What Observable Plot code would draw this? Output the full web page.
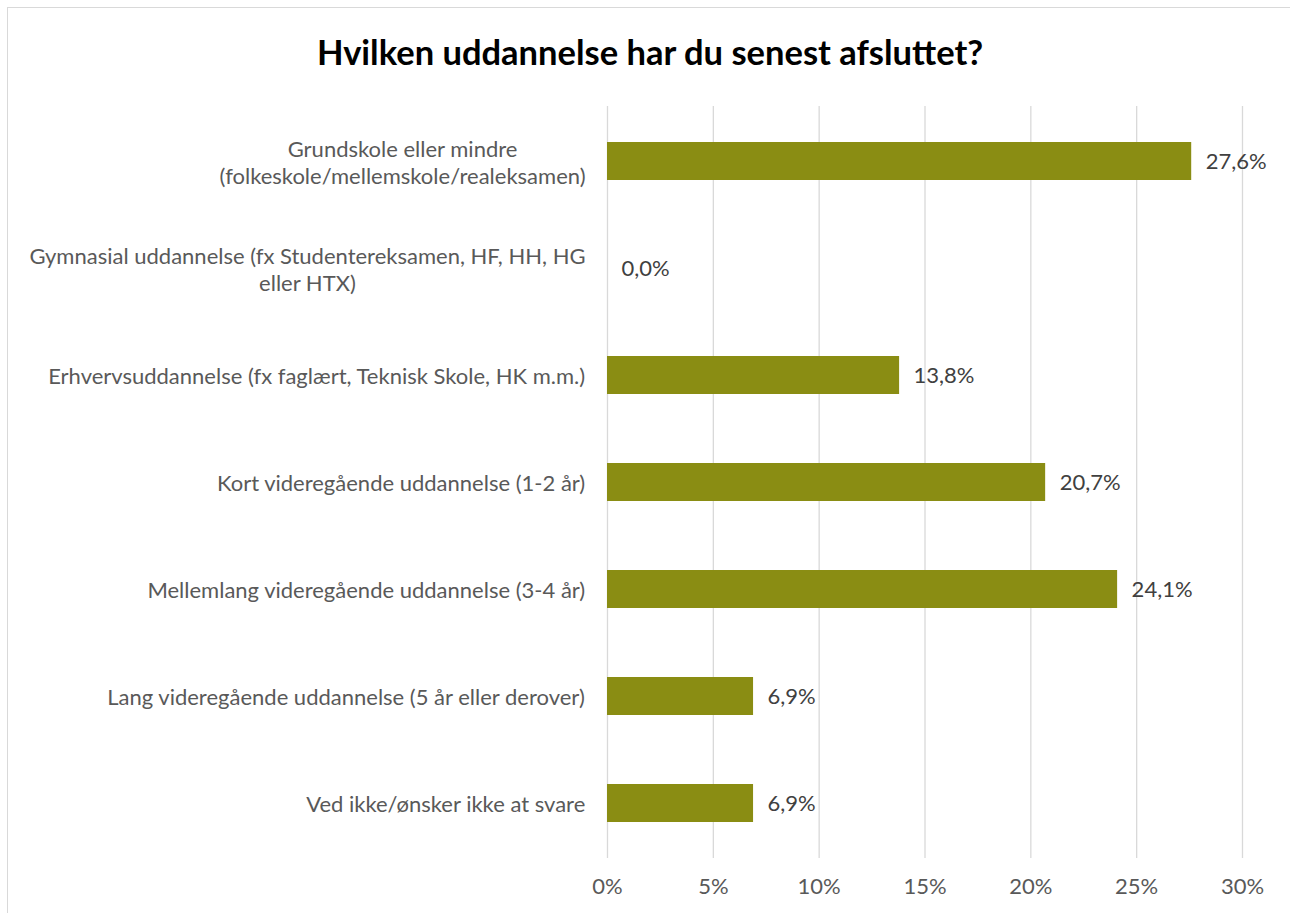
<!DOCTYPE html>
<html>
<head>
<meta charset="utf-8">
<script src="https://cdn.jsdelivr.net/npm/d3@7"></script>
<script src="https://cdn.jsdelivr.net/npm/@observablehq/plot@0.6"></script>
<style>
  html, body { margin: 0; padding: 0; background: #fff; overflow: hidden; }
  #wrap { position: relative; width: 1290px; height: 913px; }
  #border { position: absolute; left: 7px; top: 7px; width: 1300px; height: 930px; border: 1px solid #d9d9d9; pointer-events: none; }
  #title { height: 96px; line-height: 104px; text-align: center; font-family: Lato, sans-serif; font-weight: bold; font-size: 34.5px; color: #000; padding-left: 10px; }
</style>
</head>
<body>
<div id="wrap">
  <div id="border"></div>
  <div id="title">Hvilken uddannelse har du senest afsluttet?</div>
  <div id="chart"></div>
</div>
<script>
const categories = [
  "Grundskole eller mindre\n(folkeskole/mellemskole/realeksamen)",
  "Gymnasial uddannelse (fx Studentereksamen, HF, HH, HG\neller HTX)",
  "Erhvervsuddannelse (fx faglært, Teknisk Skole, HK m.m.)",
  "Kort videregående uddannelse (1-2 år)",
  "Mellemlang videregående uddannelse (3-4 år)",
  "Lang videregående uddannelse (5 år eller derover)",
  "Ved ikke/ønsker ikke at svare"
];
const values = [27.6, 0.0, 13.8, 20.7, 24.1, 6.9, 6.9];
const xTicks = [0, 5, 10, 15, 20, 25, 30];

const data = categories.map((c, i) => ({cat: c, value: values[i]}));
const fmt = v => v.toFixed(1).replace(".", ",") + "%";

const FONT = "Lato, sans-serif";
const LABEL_SIZE = 22;
const ctx = document.createElement("canvas").getContext("2d");
ctx.font = `${LABEL_SIZE}px Lato`;
const blockWidth = s => Math.max(...s.split("\n").map(l => ctx.measureText(l).width));
const PAD = 22;

const labelMarks = categories.map(c =>
  Plot.text([c], {
    y: d => d, text: d => d, frameAnchor: "left", textAnchor: "middle",
    dx: -(PAD + blockWidth(c) / 2), fill: "#595959", fontSize: LABEL_SIZE, lineHeight: 1.25
  })
);

const chart = Plot.plot({
  width: 1290,
  height: 817,
  marginTop: 10,
  marginBottom: 55,
  marginLeft: 607,
  marginRight: 48,
  style: {fontFamily: FONT, fontSize: LABEL_SIZE + "px", color: "#595959", background: "transparent"},
  x: {domain: [0, 30], ticks: xTicks, tickFormat: d => d + "%", label: null},
  y: {domain: categories, paddingInner: 0.646, paddingOuter: 0.323, label: null},
  marks: [
    Plot.gridX(xTicks, {stroke: "#d9d9d9", strokeOpacity: 1, strokeWidth: 1.3}),
    Plot.barX(data, {x: "value", y: "cat", fill: "#8a8d13"}),
    Plot.text(data, {x: "value", y: "cat", text: d => fmt(d.value), textAnchor: "start", dx: 14, fill: "#404040", fontSize: LABEL_SIZE}),
    Plot.axisX(xTicks, {tickSize: 0, tickPadding: 20, fontSize: LABEL_SIZE, fill: "#595959", tickFormat: d => d + "%"}),
    Plot.axisY({ticks: [], tickSize: 0, label: null}),
    ...labelMarks
  ]
});
document.getElementById("chart").appendChild(chart);
</script>
</body>
</html>
